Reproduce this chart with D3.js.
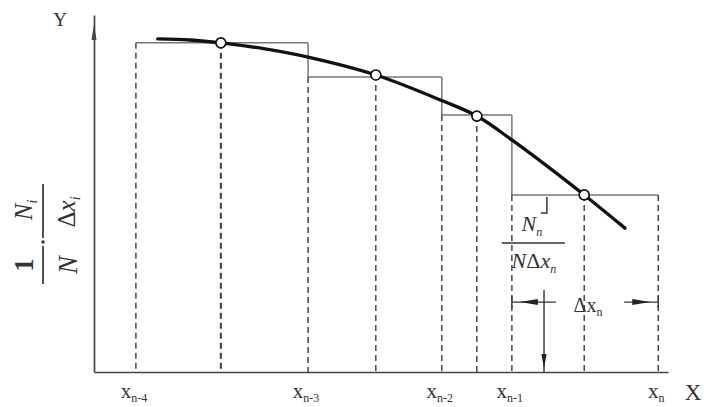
<!DOCTYPE html>
<html><head><meta charset="utf-8">
<script src="https://cdn.jsdelivr.net/npm/d3@7"></script>
<style>body{margin:0;background:#fff}svg{display:block}</style>
</head><body><svg id="c" width="708" height="407"></svg>
<script>
// ---- data (arbitrary units) ----
const binEdges   = [7.3, 37.3, 60.6, 72.8, 98.3];
const binHeights = [92.2, 82.6, 72.0, 49.6];
const midX       = [22.1, 49.1, 66.7, 85.4];
const midY       = [92.2, 83.2, 71.7, 49.6];
const curveX     = [11.1, 16.7, 22.1, 29.8, 37.3, 49.1, 60.8, 66.7, 72.8, 85.4, 92.5];
const curveY     = [93.3, 93.0, 92.2, 90.5, 88.2, 83.2, 75.9, 71.7, 65.0, 49.6, 40.3];
const edgeSubs   = ["n-4", "n-3", "n-2", "n-1", "n"];
const dimY       = 19.6;   // height of the Δx_n dimension line
const arrowX     = 78.4;   // vertical arrow position
const arrowTop   = 23.0;

const svg = d3.select("#c");
const x = d3.scaleLinear().domain([0, 100]).range([94, 668]);
const y = d3.scaleLinear().domain([0, 100]).range([372, 15]);
const grey = "#777";
const serif = "'Liberation Serif','DejaVu Serif',serif";

// axes
const xAxis = svg.append("g").attr("transform", `translate(0,${y(0)})`)
  .call(d3.axisBottom(x).tickValues([]).tickSizeOuter(0));
xAxis.select(".domain").attr("stroke", "#444").attr("stroke-width", 1.7);
const yAxis = svg.append("g").attr("transform", `translate(${x(0)},0)`)
  .call(d3.axisLeft(y).tickValues([]).tickSizeOuter(0));
yAxis.select(".domain").attr("stroke", "#444").attr("stroke-width", 1.7);
svg.append("path")
  .attr("d", `M${x(0)},${y(100) + 9} L${x(0) - 2.5},${y(100) + 25} L${x(0) + 2.5},${y(100) + 25} Z`)
  .attr("fill", "#444");

const dashed = (x1, y1, x2, y2, w) => svg.append("line")
  .attr("x1", x1).attr("y1", y1).attr("x2", x2).attr("y2", y2)
  .attr("stroke", "#3a3a3a").attr("stroke-width", w || 1.4).attr("stroke-dasharray", "6,4");
const solid = (x1, y1, x2, y2) => svg.append("line")
  .attr("x1", x1).attr("y1", y1).attr("x2", x2).attr("y2", y2)
  .attr("stroke", grey).attr("stroke-width", 1.5);

// histogram steps
binHeights.forEach((h, i) => {
  solid(x(binEdges[i]), y(h), x(binEdges[i + 1]), y(h));
  if (i === 0) dashed(x(binEdges[i]), y(h), x(binEdges[i]), y(0));
  else {
    solid(x(binEdges[i]), y(binHeights[i - 1]), x(binEdges[i]), y(h));
    dashed(x(binEdges[i]), y(h), x(binEdges[i]), y(0));
  }
});
dashed(x(binEdges[4]), y(binHeights[3]), x(binEdges[4]), y(0));

// mid-point verticals
midX.forEach((mx, i) => dashed(x(mx), y(midY[i]), x(mx), y(0), i === 0 ? 2 : 1.4));

// smooth curve
const pts = curveX.map((cx, i) => [cx, curveY[i]]);
svg.append("path").datum(pts)
  .attr("d", d3.line().x(d => x(d[0])).y(d => y(d[1])).curve(d3.curveCatmullRom.alpha(0.5)))
  .attr("fill", "none").attr("stroke", "#111").attr("stroke-width", 3.3).attr("stroke-linecap", "round");

// circles
svg.selectAll("circle.pt").data(midX).join("circle")
  .attr("cx", d => x(d)).attr("cy", (d, i) => y(midY[i])).attr("r", 5)
  .attr("fill", "#fff").attr("stroke", "#111").attr("stroke-width", 1.7);

// tick labels x_{...}
edgeSubs.forEach((s, i) => {
  const t = svg.append("text").attr("x", x(binEdges[i]) - 2).attr("y", 398)
    .attr("text-anchor", "middle").attr("font-family", serif).attr("fill", "#333");
  t.append("tspan").attr("font-size", 21).text("x");
  t.append("tspan").attr("font-size", 12).attr("dy", 4).text(s);
});
svg.append("text").attr("x", 693).attr("y", 400).attr("text-anchor", "middle")
  .attr("font-family", serif).attr("font-size", 23).attr("fill", "#333").text("X");
svg.append("text").attr("x", 60).attr("y", 26).attr("text-anchor", "middle")
  .attr("font-family", serif).attr("font-size", 19).attr("fill", "#333").text("Y");

// y-axis label: 1/N · N_i/Δx_i  (rotated)
const gl = svg.append("g").attr("transform", "translate(43,234) rotate(-90)")
  .attr("font-family", serif).attr("fill", "#333");
gl.append("line").attr("x1", -50).attr("x2", -12).attr("y1", 0).attr("y2", 0).attr("stroke", "#333").attr("stroke-width", 1.7);
gl.append("line").attr("x1", -4).attr("x2", 50).attr("y1", 0).attr("y2", 0).attr("stroke", "#333").attr("stroke-width", 1.7);
gl.append("circle").attr("cx", -8).attr("cy", 0).attr("r", 1.7).attr("fill", "#333");
gl.append("text").attr("x", -31).attr("y", -10).attr("text-anchor", "middle")
  .attr("font-size", 27).attr("font-weight", "bold").text("1");
gl.append("text").attr("x", -31).attr("y", 34).attr("text-anchor", "middle")
  .attr("font-size", 27).attr("font-style", "italic").text("N");
const nu = gl.append("text").attr("x", 24).attr("y", -11).attr("text-anchor", "middle").attr("font-style", "italic");
nu.append("tspan").attr("font-size", 25).text("N");
nu.append("tspan").attr("font-size", 14).attr("dy", 5).text("i");
const de = gl.append("text").attr("x", 22).attr("y", 32).attr("text-anchor", "middle").attr("font-style", "italic");
de.append("tspan").attr("font-size", 25).attr("font-style", "normal").text("Δ");
de.append("tspan").attr("font-size", 25).text("x");
de.append("tspan").attr("font-size", 14).attr("dy", 5).text("i");

// N_n / (N Δx_n) annotation
const ax = x(binEdges[3]);
const ay = y(binHeights[3]);
svg.append("path").attr("d", `M${ax + 35},${ay + 2} L${ax + 35},${ay + 18} L${ax + 29},${ay + 18}`)
  .attr("fill", "none").attr("stroke", "#333").attr("stroke-width", 1.5);
const fn = svg.append("text").attr("x", ax + 20).attr("y", ay + 36).attr("text-anchor", "middle")
  .attr("font-family", serif).attr("font-style", "italic").attr("fill", "#333");
fn.append("tspan").attr("font-size", 22).text("N");
fn.append("tspan").attr("font-size", 12).attr("dy", 5).text("n");
svg.append("line").attr("x1", ax - 10).attr("x2", ax + 53).attr("y1", ay + 48).attr("y2", ay + 48)
  .attr("stroke", "#333").attr("stroke-width", 1.5);
const fd = svg.append("text").attr("x", ax + 22).attr("y", ay + 73).attr("text-anchor", "middle")
  .attr("font-family", serif).attr("font-style", "italic").attr("fill", "#333");
fd.append("tspan").attr("font-size", 22).text("N");
fd.append("tspan").attr("font-size", 22).attr("font-style", "normal").text("Δ");
fd.append("tspan").attr("font-size", 22).text("x");
fd.append("tspan").attr("font-size", 12).attr("dy", 5).text("n");

// Δx_n dimension
const dy0 = y(dimY), x1 = x(binEdges[3]), x2 = x(binEdges[4]);
svg.append("line").attr("x1", x1).attr("x2", x1 + 44).attr("y1", dy0).attr("y2", dy0).attr("stroke", "#333").attr("stroke-width", 1.3);
svg.append("line").attr("x1", x2 - 34).attr("x2", x2).attr("y1", dy0).attr("y2", dy0).attr("stroke", "#333").attr("stroke-width", 1.3);
svg.append("line").attr("x1", x1).attr("x2", x1).attr("y1", dy0 - 6).attr("y2", dy0 + 6).attr("stroke", "#333").attr("stroke-width", 1.3);
svg.append("line").attr("x1", x2).attr("x2", x2).attr("y1", dy0 - 6).attr("y2", dy0 + 6).attr("stroke", "#333").attr("stroke-width", 1.3);
svg.append("path").attr("d", `M${x1 + 8},${dy0} L${x1 + 26},${dy0 - 3} L${x1 + 26},${dy0 + 3} Z`).attr("fill", "#222");
svg.append("path").attr("d", `M${x2 - 8},${dy0} L${x2 - 26},${dy0 - 3} L${x2 - 26},${dy0 + 3} Z`).attr("fill", "#222");
svg.append("text").attr("x", (x1 + x2) / 2 + 3).attr("y", dy0 + 10).attr("text-anchor", "middle")
  .attr("font-family", serif).attr("fill", "#333")
  .call(t => { t.append("tspan").attr("font-size", 20).text("Δx"); t.append("tspan").attr("font-size", 12).attr("dy", 4).text("n"); });
// vertical arrow
svg.append("line").attr("x1", x(arrowX)).attr("x2", x(arrowX)).attr("y1", y(arrowTop)).attr("y2", y(0))
  .attr("stroke", "#333").attr("stroke-width", 1.4);
svg.append("path").attr("d", `M${x(arrowX)},${y(0) - 3} L${x(arrowX) - 2.5},${y(0) - 18} L${x(arrowX) + 2.5},${y(0) - 18} Z`).attr("fill", "#222");
</script></body></html>
